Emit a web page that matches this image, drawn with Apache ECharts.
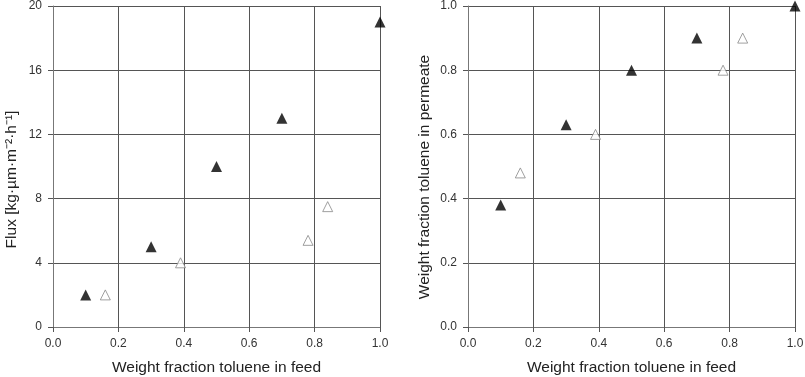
<!DOCTYPE html>
<html><head><meta charset="utf-8">
<script src="https://cdn.jsdelivr.net/npm/echarts@6/dist/echarts.min.js"></script>
<style>html,body{margin:0;padding:0;background:#fff}#c{width:805px;height:377px}</style>
</head><body><div id="c"></div>
<script>
// Left panel: Flux
var fluxFilledX = [0.1, 0.3, 0.5, 0.7, 1.0];
var fluxFilledY = [2, 5, 10, 13, 19];
var fluxOpenX = [0.16, 0.39, 0.78, 0.84];
var fluxOpenY = [2, 4, 5.4, 7.5];
// Right panel: permeate fraction
var permFilledX = [0.1, 0.3, 0.5, 0.7, 1.0];
var permFilledY = [0.38, 0.63, 0.8, 0.9, 1.0];
var permOpenX = [0.16, 0.39, 0.78, 0.84];
var permOpenY = [0.48, 0.6, 0.8, 0.9];

var xName = 'Weight fraction toluene in feed';
var yNameLeft = 'Flux [kg·µm·m⁻²·h⁻¹]';
var yNameRight = 'Weight fraction toluene in permeate';

function pairs(xs, ys) { return xs.map(function (x, i) { return [x, ys[i]]; }); }

var font = 'Liberation Sans, Arial, sans-serif';
function xAxis(gi) {
  return {
    gridIndex: gi, type: 'value', min: 0, max: 1, interval: 0.2,
    name: xName, nameLocation: 'middle', nameGap: 33,
    nameTextStyle: { fontFamily: font, fontSize: 15.5, color: '#222' },
    axisLine: { show: true, lineStyle: { color: '#777', width: 1 } },
    axisTick: { show: true, length: 5, lineStyle: { color: '#555' } },
    axisLabel: { fontFamily: font, fontSize: 12, color: '#333', margin: 11,
      formatter: function (v) { return v.toFixed(1); } },
    splitLine: { show: true, lineStyle: { color: '#555', width: 1 } }
  };
}
function yAxis(gi, max, interval, name, gap, dec, shift) {
  return {
    gridIndex: gi, type: 'value', min: 0, max: max, interval: interval,
    name: name, nameLocation: 'middle', nameGap: gap,
    nameTextStyle: { fontFamily: font, fontSize: 15.5, color: '#222', padding: [0, shift, 0, 0] },
    axisLine: { show: true, lineStyle: { color: '#777', width: 1 } },
    axisTick: { show: true, length: 5, lineStyle: { color: '#555' } },
    axisLabel: { fontFamily: font, fontSize: 12, color: '#333', margin: 11,
      formatter: function (v) { return v.toFixed(dec); } },
    splitLine: { show: true, lineStyle: { color: '#555', width: 1 } }
  };
}
var filled = { color: '#000', borderColor: '#000', borderWidth: 0 };
var open = { color: '#fff', borderColor: '#888', borderWidth: 1 };

var chart = echarts.init(document.getElementById('c'));
chart.setOption({
  animation: false,
  grid: [
    { left: 53, right: 425, top: 6, bottom: 50, containLabel: false, outerBoundsMode: 'none' },
    { left: 468, right: 10, top: 6, bottom: 50, containLabel: false, outerBoundsMode: 'none' }
  ],
  xAxis: [xAxis(0), xAxis(1)],
  yAxis: [yAxis(0, 20, 4, yNameLeft, 33, 0, 26), yAxis(1, 1, 0.2, yNameRight, 35, 1, 21)],
  series: [
    { type: 'scatter', xAxisIndex: 0, yAxisIndex: 0, symbol: 'triangle', symbolSize: 11, itemStyle: filled, data: pairs(fluxFilledX, fluxFilledY), z: 3 },
    { type: 'scatter', xAxisIndex: 0, yAxisIndex: 0, symbol: 'triangle', symbolSize: 10, itemStyle: open, data: pairs(fluxOpenX, fluxOpenY), z: 3 },
    { type: 'scatter', xAxisIndex: 1, yAxisIndex: 1, symbol: 'triangle', symbolSize: 11, itemStyle: filled, data: pairs(permFilledX, permFilledY), z: 3 },
    { type: 'scatter', xAxisIndex: 1, yAxisIndex: 1, symbol: 'triangle', symbolSize: 10, itemStyle: open, data: pairs(permOpenX, permOpenY), z: 3 }
  ]
});
</script></body></html>
